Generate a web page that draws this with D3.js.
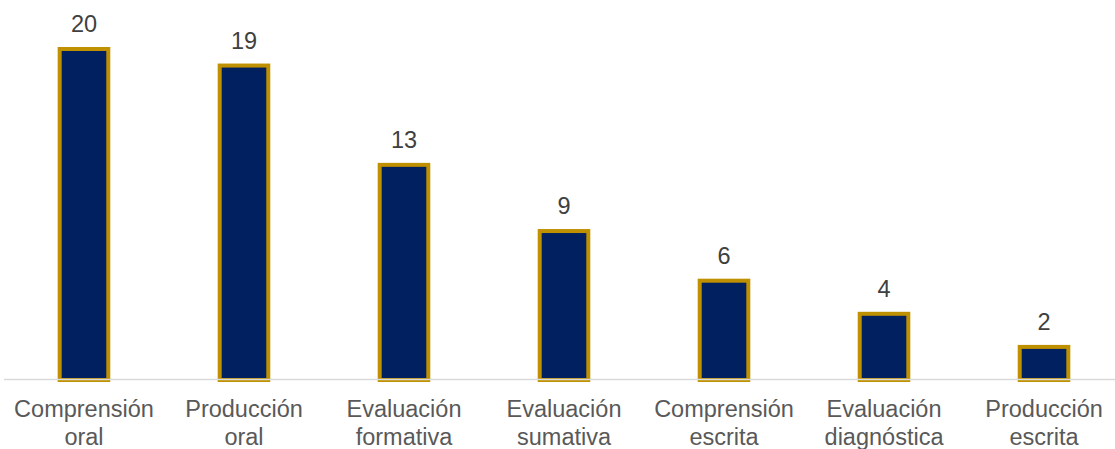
<!DOCTYPE html>
<html>
<head>
<meta charset="utf-8">
<script src="https://cdn.jsdelivr.net/npm/d3@7"></script>
<style>
  html, body { margin: 0; padding: 0; background: #ffffff; }
  svg { display: block; }
  text { font-family: "Liberation Sans", Arial, sans-serif; }
</style>
</head>
<body>
<svg id="chart" width="1115" height="449"></svg>
<script>
// Categories (two-line labels) and their counts
const categories = [
  ["Comprensión", "oral"],
  ["Producción", "oral"],
  ["Evaluación", "formativa"],
  ["Evaluación", "sumativa"],
  ["Comprensión", "escrita"],
  ["Evaluación", "diagnóstica"],
  ["Producción", "escrita"]
];
const values = [20, 19, 13, 9, 6, 4, 2];

const width = 1115, height = 449;
const baseline = 380;
const svg = d3.select("#chart");

const keys = categories.map(c => c.join(" "));
const x = d3.scaleBand()
  .domain(keys)
  .range([4, 1124])
  .paddingInner(0.6963)
  .paddingOuter(0.348);

const y = d3.scaleLinear()
  .domain([0, 20])
  .range([baseline, 49]);

// Bars
svg.append("g")
  .selectAll("rect")
  .data(values)
  .join("rect")
  .attr("x", (d, i) => x(keys[i]))
  .attr("y", d => y(d))
  .attr("width", x.bandwidth())
  .attr("height", d => y(0) - y(d))
  .attr("fill", "#002060")
  .attr("stroke", "#BF9000")
  .attr("stroke-width", 4);

// Category axis line
svg.append("line")
  .attr("x1", 4).attr("x2", width)
  .attr("y1", 379.5).attr("y2", 379.5)
  .attr("stroke", "#d9d9d9")
  .attr("stroke-width", 1.5);

// Value labels
svg.append("g")
  .selectAll("text")
  .data(values)
  .join("text")
  .attr("x", (d, i) => x(keys[i]) + x.bandwidth() / 2)
  .attr("y", d => y(d) - 17)
  .attr("text-anchor", "middle")
  .attr("font-size", "23.5px")
  .attr("fill", "#404040")
  .text(d => d);

// Category labels
const lbl = svg.append("g")
  .selectAll("text")
  .data(categories)
  .join("text")
  .attr("text-anchor", "middle")
  .attr("font-size", "23.5px")
  .attr("fill", "#595959")
  .attr("transform", (d, i) => `translate(${x(keys[i]) + x.bandwidth() / 2},0)`);

lbl.selectAll("tspan")
  .data(d => d)
  .join("tspan")
  .attr("x", 0)
  .attr("y", (d, j) => 416.5 + j * 28.5)
  .text(d => d);
</script>
</body>
</html>
